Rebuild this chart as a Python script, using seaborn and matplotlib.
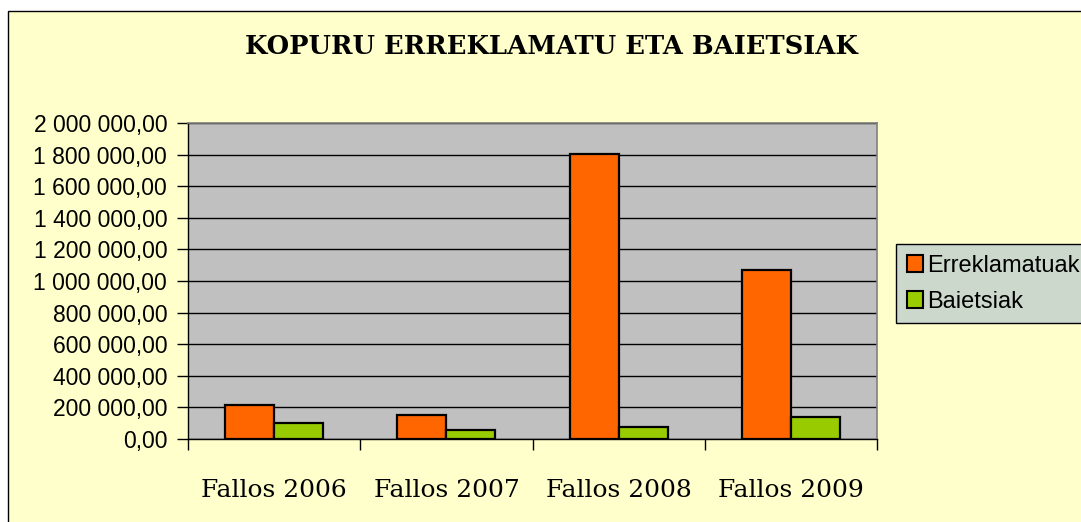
import matplotlib
matplotlib.use("Agg")
import matplotlib.pyplot as plt
import seaborn as sns
import pandas as pd
import numpy as np
from matplotlib.patches import Rectangle, Patch
from matplotlib.ticker import FuncFormatter

categories = ["Fallos 2006", "Fallos 2007", "Fallos 2008", "Fallos 2009"]
erreklamatuak = [215000, 152000, 1806000, 1067000]
baietsiak = [99000, 59000, 74000, 137000]
series_names = ["Erreklamatuak", "Baietsiak"]
title = "KOPURU ERREKLAMATU ETA BAIETSIAK"

df = pd.DataFrame({
    "cat": categories * 2,
    "serie": [series_names[0]] * 4 + [series_names[1]] * 4,
    "val": erreklamatuak + baietsiak,
})

sns.set_theme(style="white")
plt.rcParams["font.family"] = ["Liberation Sans", "DejaVu Sans"]
plt.rcParams["text.color"] = "black"

W, H = 1081, 522
fig = plt.figure(figsize=(W / 100, H / 100), dpi=100, facecolor="white")

# chart background with border on top/left (bottom/right cropped off)
bg = Rectangle((8 / W, -0.05), 1.0, (H - 11) / H + 0.05, transform=fig.transFigure,
               facecolor="#FFFFCC", edgecolor="black", linewidth=1.0, zorder=-10)
fig.patches.append(bg)

ax = fig.add_axes([188 / W, (H - 439) / H, (877 - 188) / W, (439 - 123) / H])
ax.set_facecolor("#C0C0C0")

colors = ["#FF6600", "#99CC00"]
sns.barplot(data=df, x="cat", y="val", hue="serie", palette=colors, width=0.57,
            gap=0, saturation=1, edgecolor="black", linewidth=1.6, ax=ax,
            legend=False, zorder=3, errorbar=None)

ax.set_ylim(0, 2000000)
ax.set_yticks(np.arange(0, 2000001, 200000))
ax.yaxis.set_major_formatter(FuncFormatter(
    lambda v, p: f"{v:,.2f}".replace(",", " ").replace(".", ",")))
ax.grid(axis="y", color="black", linewidth=1.0, zorder=1)
ax.set_axisbelow(True)
ax.set_xlim(-0.5, 3.5)
ax.set_xlabel("")
ax.set_ylabel("")

for s in ["top", "right"]:
    ax.spines[s].set_color("#808080")
    ax.spines[s].set_linewidth(1.2)
ax.spines["left"].set_color("black")
ax.spines["bottom"].set_color("black")
ax.spines["left"].set_linewidth(1.0)
ax.spines["bottom"].set_linewidth(1.0)

ax.tick_params(axis="y", which="major", left=True, length=8, width=1, color="black",
               labelsize=16.5, pad=7, labelcolor="black")
ax.set_xticks(range(4))
ax.set_xticklabels(categories, fontfamily="DejaVu Serif", fontsize=18, color="black")
ax.tick_params(axis="x", which="major", bottom=False, length=0, pad=29)
ax.set_xticks([-0.5, 0.5, 1.5, 2.5, 3.5], minor=True)
ax.tick_params(axis="x", which="minor", bottom=True, length=8, width=1, color="black")

fig.text(551 / W, 1 - 47 / H, title, ha="center", va="center",
         fontfamily="DejaVu Serif", fontweight="bold", fontsize=18.5, color="black")

handles = [Patch(facecolor=c, edgecolor="black", linewidth=1.5) for c in colors]
leg = fig.legend(handles, series_names, loc="upper left",
                 bbox_to_anchor=(896 / W, 1 - 244 / H), frameon=True, fontsize=17,
                 handlelength=0.7, handleheight=0.7, handletextpad=0.15,
                 labelspacing=0.6, borderpad=0.45, borderaxespad=0, fancybox=False,
                 labelcolor="black")
leg.get_frame().set_facecolor("#CCD8CC")
leg.get_frame().set_edgecolor("black")
leg.get_frame().set_linewidth(1.0)
leg.get_frame().set_alpha(1)

fig.savefig("out.png", dpi=100, facecolor=fig.get_facecolor())
